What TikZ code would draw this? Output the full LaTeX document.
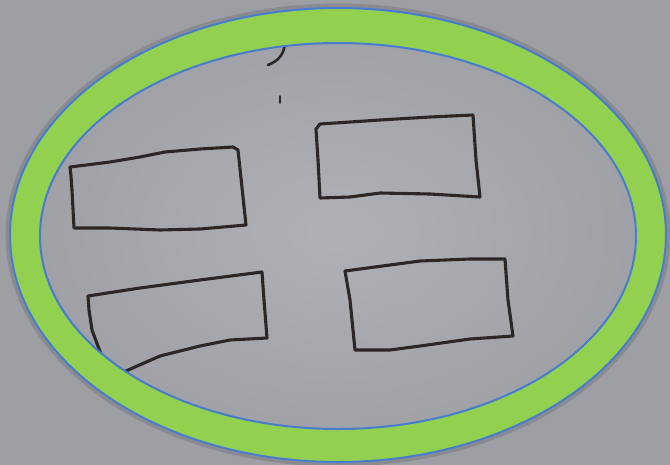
\documentclass[tikz,border=0pt]{standalone}
\usetikzlibrary{shadings}
\definecolor{paper}{RGB}{176,177,182}
\definecolor{paperdark}{RGB}{158,159,165}
\definecolor{ringgreen}{RGB}{146,208,80}
\definecolor{ringblue}{RGB}{72,124,206}
\definecolor{ink}{RGB}{45,38,38}
\tikzset{
  pen/.style={draw=ink, line width=3.1pt, line join=round, line cap=round},
  ringedge/.style={draw=ringblue, line width=2pt}
}
\begin{document}
\begin{tikzpicture}[x=1pt,y=-1pt]
\useasboundingbox (0,0) rectangle (670,464);
% paper
\shade[inner color=paper, outer color=paperdark] (0,0) rectangle (670,464);
% hand drawn rectangles
\draw[pen] (70,167) -- (110,162) -- (140,157) -- (165,152) -- (200,149) -- (233,147) -- (238,150) -- (246,225) -- (200,229) -- (160,230) -- (110,228) -- (74,228) -- (72,190) -- (71,176) -- cycle;
\draw[pen] (316,129) -- (320,124) -- (380,120) -- (430,117) -- (473,115) -- (476,160) -- (480,197) -- (430,194) -- (380,193) -- (350,197) -- (320,198) -- (318,160) -- cycle;
\draw[pen] (88,296) -- (140,288) -- (200,280) -- (262,272) -- (264,300) -- (267,338) -- (230,340) -- (200,346) -- (160,356) -- (110,378) -- (92,330) -- (89,310) -- cycle;
\draw[pen] (345,271) -- (390,265) -- (420,261) -- (470,259) -- (505,259) -- (508,300) -- (513,336) -- (470,339) -- (420,346) -- (390,350) -- (355,350) -- (350,300) -- cycle;
% small marks
\draw[pen, line width=2.6pt] (285,43) .. controls (284,55) and (278,61) .. (268,65);
\draw[pen, line width=1.8pt] (280,96) -- (280,103);
% ring shadow
\draw[black, opacity=0.12, line width=5pt] (338,235) ellipse [x radius=330, y radius=229];
% ring
\fill[ringgreen, even odd rule] (338,235) ellipse [x radius=328, y radius=227]
  (338,236) ellipse [x radius=298, y radius=193];
\draw[ringedge] (338,235) ellipse [x radius=328, y radius=227];
\draw[ringedge] (338,236) ellipse [x radius=298, y radius=193];
\end{tikzpicture}
\end{document}
